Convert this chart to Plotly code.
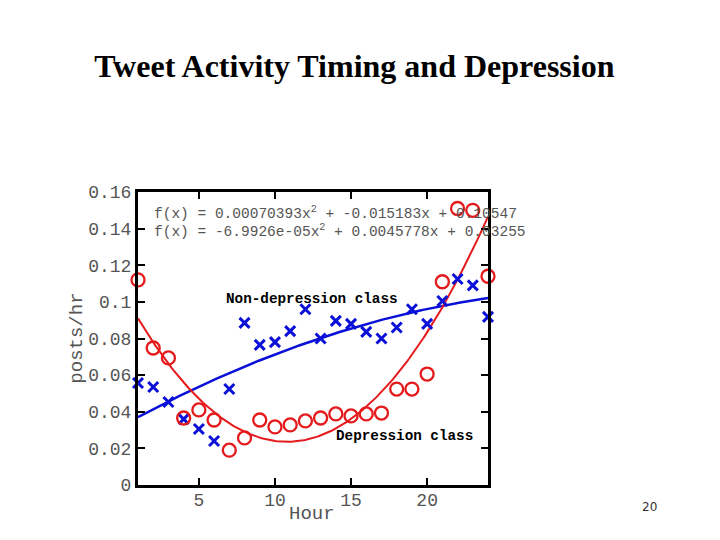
import numpy as np
import plotly.graph_objects as go

hours = list(range(1, 25))
depression = [0.112, 0.0748, 0.0694, 0.0366, 0.041, 0.0355, 0.019, 0.0257, 0.0355, 0.0317,
              0.0328, 0.035, 0.0366, 0.0388, 0.0377, 0.0388, 0.0393, 0.0524, 0.0524, 0.0606,
              0.111, 0.151, 0.150, 0.114]
non_depression = [0.0557, 0.0535, 0.0453, 0.036, 0.0306, 0.024, 0.0524, 0.0885, 0.0765, 0.078,
                  0.084, 0.096, 0.080, 0.0896, 0.088, 0.0836, 0.080, 0.086, 0.096, 0.088,
                  0.1005, 0.1125, 0.109, 0.0918]
dep_fit_coef = [0.00070393, -0.015183, 0.10547]
nondep_fit_coef = [-6.9926e-05, 0.0045778, 0.03255]
y_ticks = [0, 0.02, 0.04, 0.06, 0.08, 0.1, 0.12, 0.14, 0.16]
y_tick_labels = ["0", "0.02", "0.04", "0.06", "0.08", "0.1", "0.12", "0.14", "0.16"]
x_ticks = [5, 10, 15, 20]

RED = "#e41a1c"
BLUE = "#0a10d8"
xs = np.linspace(1, 24, 200)

fig = go.Figure()
fig.add_trace(go.Scatter(x=xs, y=np.polyval(nondep_fit_coef, xs), mode="lines",
                         line=dict(color=BLUE, width=2.5), hoverinfo="skip"))
fig.add_trace(go.Scatter(x=xs, y=np.polyval(dep_fit_coef, xs), mode="lines",
                         line=dict(color=RED, width=2), hoverinfo="skip"))
fig.add_trace(go.Scatter(x=hours, y=non_depression, mode="markers",
                         marker=dict(symbol="x-thin", size=10, line=dict(color=BLUE, width=3)),
                         cliponaxis=False))
fig.add_trace(go.Scatter(x=hours, y=depression, mode="markers",
                         marker=dict(symbol="circle-open", size=13, color=RED, line=dict(color=RED, width=2.3)),
                         cliponaxis=False))

mono = "Liberation Mono, Courier New, monospace"
fig.update_layout(
    width=720, height=540,
    paper_bgcolor="white", plot_bgcolor="white",
    showlegend=False,
    margin=dict(l=130, r=240, t=184, b=63),
    title=dict(text="<b>Tweet Activity Timing and Depression</b>", x=0.481, xanchor="center",
               y=0.893, yanchor="middle",
               font=dict(family="Liberation Serif, Times New Roman, serif", size=32, color="black")),
    xaxis=dict(range=[1, 24], tickvals=x_ticks, ticks="inside", ticklen=7, tickwidth=2,
               tickcolor="black", showline=True, linecolor="black", linewidth=3, mirror="ticks",
               showgrid=False, zeroline=False, ticklabelstandoff=-4,
               tickfont=dict(family=mono, size=18, color="#555")),
    yaxis=dict(range=[0, 0.16], tickvals=y_ticks, ticktext=y_tick_labels, ticks="inside", ticklen=7,
               tickwidth=2, tickcolor="black", showline=True, linecolor="black", linewidth=3,
               mirror="ticks", showgrid=False, zeroline=False,
               tickfont=dict(family=mono, size=18, color="#555")),
)

fig.add_annotation(text="Hour", xref="paper", yref="paper", x=0.497, y=-0.1,
                   xanchor="center", yanchor="middle", showarrow=False,
                   font=dict(family=mono, size=19, color="#555"))
fig.add_annotation(text="posts/hr", xref="paper", yref="paper", x=-0.175, y=0.502, textangle=-90,
                   xanchor="center", yanchor="middle", showarrow=False,
                   font=dict(family=mono, size=19, color="#555"))
fig.add_annotation(text="f(x) = 0.00070393x<sup>2</sup> + -0.015183x + 0.10547", xref="paper", yref="paper",
                   x=0.04, y=0.93, xanchor="left", yanchor="middle", showarrow=False,
                   font=dict(family=mono, size=14.5, color="#555"))
fig.add_annotation(text="f(x) = -6.9926e-05x<sup>2</sup> + 0.0045778x + 0.03255", xref="paper", yref="paper",
                   x=0.04, y=0.866, xanchor="left", yanchor="middle", showarrow=False,
                   font=dict(family=mono, size=14.5, color="#555"))
fig.add_annotation(text="<b>Non-depression class</b>", xref="paper", yref="paper",
                   x=0.245, y=0.636, xanchor="left", yanchor="middle", showarrow=False,
                   font=dict(family=mono, size=14.3, color="black"))
fig.add_annotation(text="<b>Depression class</b>", xref="paper", yref="paper",
                   x=0.56, y=0.167, xanchor="left", yanchor="middle", showarrow=False,
                   font=dict(family=mono, size=14.3, color="black"))
fig.add_annotation(text="20", xref="paper", yref="paper", x=1.46, y=-0.075,
                   xanchor="center", yanchor="middle", showarrow=False,
                   font=dict(family="DejaVu Sans, sans-serif", size=12, color="#333"))

fig.write_html("out.html")
